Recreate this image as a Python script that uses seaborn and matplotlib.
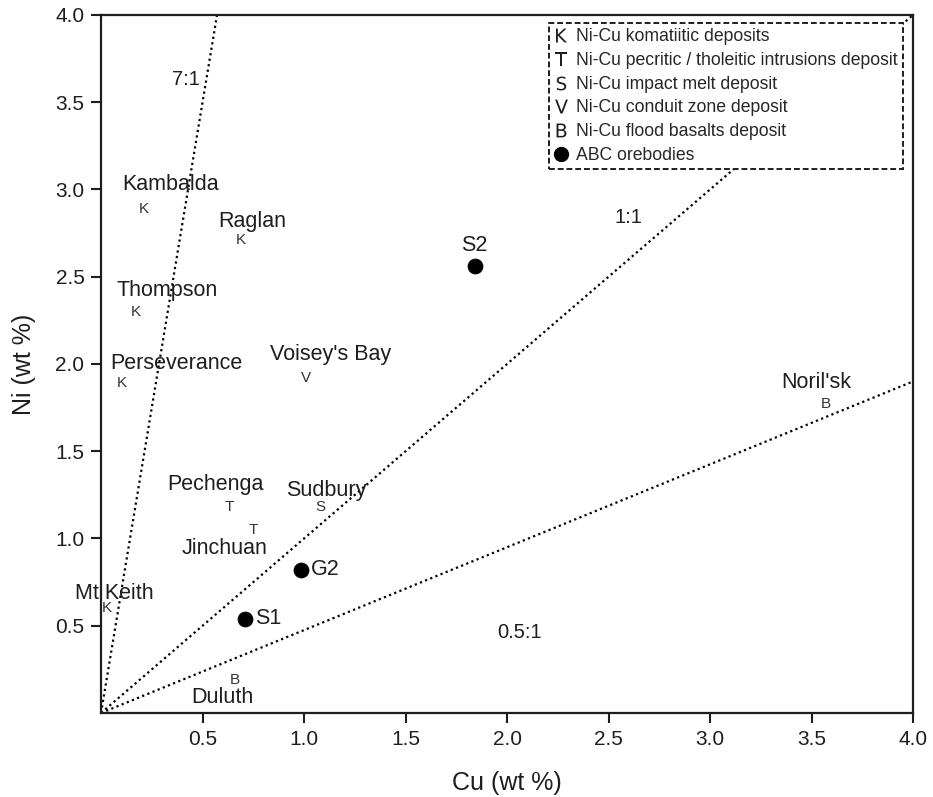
import numpy as np
import pandas as pd
from matplotlib import pyplot as plt
from matplotlib.lines import Line2D
import seaborn as sb

# known Ni-Cu deposits (letter = deposit type)
dep_names = ["Kambalda", "Raglan", "Thompson", "Perseverance", "Voisey's Bay",
             "Pechenga", "Jinchuan", "Sudbury", "Mt Keith", "Duluth", "Noril'sk"]
dep_cu = [0.21, 0.69, 0.17, 0.10, 1.01, 0.63, 0.75, 1.08, 0.03, 0.66, 3.57]
dep_ni = [2.89, 2.71, 2.30, 1.89, 1.92, 1.18, 1.05, 1.18, 0.60, 0.19, 1.77]
dep_type = ["K", "K", "K", "K", "V", "T", "T", "S", "K", "B", "B"]

# ABC orebodies
ore_names = ["S1", "G2", "S2"]
ore_cu = [0.71, 0.985, 1.84]
ore_ni = [0.54, 0.82, 2.56]

# ratio guide lines (Ni:Cu)
ratio_names = ["7:1", "1:1", "0.5:1"]
ratio_slopes = [7.0, 1.0, 0.475]

legend_items = [("K", "Ni-Cu komatiitic deposits"),
                ("T", "Ni-Cu pecritic / tholeitic intrusions deposit"),
                ("S", "Ni-Cu impact melt deposit"),
                ("V", "Ni-Cu conduit zone deposit"),
                ("B", "Ni-Cu flood basalts deposit")]

# label offsets in pixels relative to the marker
dep_offsets = {"Kambalda": (27, 24), "Raglan": (11, 19), "Thompson": (32, 21),
               "Perseverance": (55, 20), "Voisey's Bay": (24, 23), "Pechenga": (-13, 23),
               "Jinchuan": (-29, -19), "Sudbury": (6, 17), "Mt Keith": (7, 15),
               "Duluth": (-13, -18), "Noril'sk": (-9, 22)}
ore_offsets = {"S1": (10, 0), "G2": (10, 0), "S2": (0, 21)}
ratio_label_pos = {"7:1": (0.42, 3.63), "1:1": (2.6, 2.84), "0.5:1": (2.06, 0.46)}

sb.set_style("ticks")
plt.rcParams["font.family"] = ["Liberation Sans", "DejaVu Sans"]
ink = "#1e1e1e"

fig = plt.figure(figsize=(9.33, 7.97), dpi=100)
ax = fig.add_axes([0.1083, 0.1054, 0.8703, 0.8758])

for name, k in zip(ratio_names, ratio_slopes):
    xe = min(4.0, 4.0 / k)
    line_df = pd.DataFrame({"x": [0.0, xe], "y": [0.0, k * xe]})
    sb.lineplot(data=line_df, x="x", y="y", ax=ax, color="black",
                linestyle=(0, (1, 1.5)), lw=1.6, zorder=1)
    lx, ly = ratio_label_pos[name]
    ax.text(lx, ly, name, fontsize=14.5, ha="center", va="center", color=ink)

for name, x, y, t in zip(dep_names, dep_cu, dep_ni, dep_type):
    ax.text(x, y, t, fontsize=11, ha="center", va="center", color="#333333", zorder=3)
    ax.annotate(name, (x, y), xytext=dep_offsets[name], textcoords="offset pixels",
                fontsize=15.5, ha="center", va="center", color=ink, zorder=3)

ore_df = pd.DataFrame({"Cu": ore_cu, "Ni": ore_ni, "name": ore_names})
sb.scatterplot(data=ore_df, x="Cu", y="Ni", ax=ax, color="black", s=110,
               edgecolor="black", zorder=4)
for name, x, y in zip(ore_names, ore_cu, ore_ni):
    dx, dy = ore_offsets[name]
    ax.annotate(name, (x, y), xytext=(dx, dy), textcoords="offset pixels",
                fontsize=15.5, ha="left" if dx > 0 else "center", va="center",
                color=ink, zorder=4)

ax.set_xlim(0, 4)
ax.set_ylim(0, 4)
ticks = [0.5, 1.0, 1.5, 2.0, 2.5, 3.0, 3.5, 4.0]
ax.set_xticks(ticks)
ax.set_yticks(ticks)
ax.set_xticklabels([f"{t:.1f}" for t in ticks])
ax.set_yticklabels([f"{t:.1f}" for t in ticks])
ax.tick_params(direction="out", length=7, width=1.5, labelsize=15,
               colors=ink, pad=5)
for sp in ax.spines.values():
    sp.set_linewidth(1.6)
    sp.set_color(ink)
ax.set_xlabel("Cu (wt %)", fontsize=18, labelpad=16, color=ink)
ax.set_ylabel("Ni (wt %)", fontsize=18, labelpad=14, color=ink)

handles = [Line2D([], [], linestyle="none", marker=f"$\\mathsf{{{k}}}$",
                  color=ink, markersize=10, markeredgewidth=0) for k, _ in legend_items]
handles.append(Line2D([], [], linestyle="none", marker="o", color="black", markersize=10))
labels = [lab for _, lab in legend_items] + ["ABC orebodies"]
leg = ax.legend(handles, labels, loc="upper right", bbox_to_anchor=(0.9877, 0.9885),
                fontsize=12.7, frameon=True, fancybox=False, handlelength=0.8,
                handletextpad=0.45, borderpad=0.3, labelspacing=0.38, borderaxespad=0)
frame = leg.get_frame()
frame.set_edgecolor(ink)
frame.set_linestyle((0, (3, 1.5)))
frame.set_linewidth(1.4)
frame.set_facecolor("white")
frame.set_alpha(1)
leg.set_zorder(5)

plt.savefig("out.png", dpi=100)
